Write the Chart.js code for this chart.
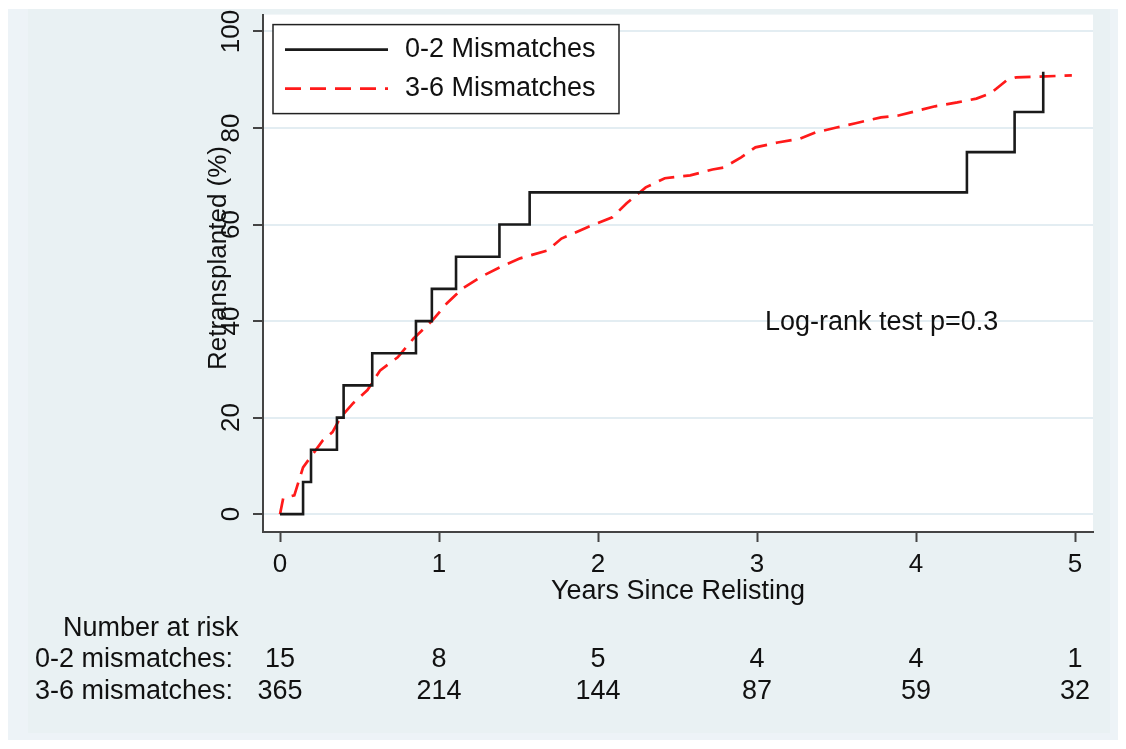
<!DOCTYPE html>
<html>
<head>
<meta charset="utf-8">
<script src="https://cdn.jsdelivr.net/npm/chart.js@4/dist/chart.umd.min.js"></script>
<style>
  body { margin: 0; background: #ffffff; }
  #wrap { width: 1126px; height: 749px; }
</style>
</head>
<body>
<div id="wrap"><canvas id="chart" width="1126" height="749"></canvas></div>
<script>
// data

// 0-2 mismatches: KM step curve (years, % retransplanted)
const lowYears = [0, 0.145, 0.195, 0.358, 0.40, 0.58, 0.855, 0.955, 1.107, 1.38, 1.57, 4.32, 4.62, 4.80];
const lowPct = [0, 6.67, 13.33, 20, 26.67, 33.33, 40, 46.67, 53.33, 60, 66.67, 75, 83.33, 91.67];

// 3-6 mismatches: dense curve, sampled
const highYears = [0, 0.02, 0.09, 0.145, 0.21, 0.27, 0.33, 0.38, 0.46, 0.55, 0.63, 0.74, 0.84, 0.96, 1.05, 1.15, 1.26, 1.38, 1.51, 1.68, 1.77, 1.93, 2.09, 2.18, 2.30, 2.42, 2.58, 2.72, 2.79, 2.90, 2.99, 3.13, 3.27, 3.37, 3.50, 3.62, 3.78, 3.89, 4.01, 4.12, 4.26, 4.38, 4.47, 4.57, 4.63, 4.98];
const highPct = [0, 3.3, 3.9, 9.7, 12.6, 15.3, 17, 20, 23, 25.7, 29.8, 32.5, 36.4, 40.2, 43.7, 46.8, 49.1, 51.1, 53, 54.6, 57.1, 59.4, 61.5, 64.4, 67.7, 69.6, 70.2, 71.4, 71.8, 73.9, 76, 77, 77.8, 79.1, 80.1, 81, 82.2, 82.6, 83.6, 84.5, 85.3, 86.1, 87.2, 89.9, 90.5, 90.9];

const seriesLabels = ['0-2 Mismatches', '3-6 Mismatches'];

// ticks
const xTicks = [0, 1, 2, 3, 4, 5];
const yTicks = [0, 20, 40, 60, 80, 100];

// number at risk table
const riskTitle = 'Number at risk';
const riskRowLabels = ['0-2 mismatches:', '3-6 mismatches:'];
const riskLow = [15, 8, 5, 4, 4, 1];
const riskHigh = [365, 214, 144, 87, 59, 32];

const noteText = 'Log-rank test p=0.3';

const FONT = "'Liberation Sans', Arial, sans-serif";

function toPoints(xs, ys) {
    return xs.map((x, i) => ({ x: x, y: ys[i] }));
}

// background panels + white plot region
const backdrop = {
    id: 'backdrop',
    beforeDraw(chart) {
        const { ctx, chartArea: a } = chart;
        ctx.save();
        ctx.fillStyle = '#ffffff';
        ctx.fillRect(0, 0, chart.width, chart.height);
        ctx.fillStyle = '#edf3f7';
        ctx.fillRect(8, 9, 1110, 731);
        ctx.fillStyle = '#e9f1f3';
        ctx.fillRect(28, 9, 1082, 724);
        ctx.fillStyle = '#ffffff';
        ctx.fillRect(a.left, a.top, a.right - a.left, a.bottom - a.top);
        ctx.restore();
    }
};

// legend box, note, y title and risk table
const extras = {
    id: 'extras',
    afterDraw(chart) {
        const { ctx, chartArea: a, scales } = chart;
        ctx.save();

        // legend
        const bx = a.left + 10, by = a.top + 10;
        ctx.fillStyle = '#ffffff';
        ctx.fillRect(bx, by, 346, 89);
        ctx.strokeStyle = '#222';
        ctx.lineWidth = 1.5;
        ctx.strokeRect(bx, by, 346, 89);
        ctx.font = '27px ' + FONT;
        ctx.textBaseline = 'middle';
        ctx.textAlign = 'left';
        chart.data.datasets.forEach((ds, i) => {
            const ly = by + 25 + i * 39;
            ctx.strokeStyle = ds.borderColor;
            ctx.lineWidth = ds.borderWidth;
            ctx.setLineDash(ds.borderDash || []);
            ctx.beginPath();
            ctx.moveTo(bx + 12, ly);
            ctx.lineTo(bx + 115, ly);
            ctx.stroke();
            ctx.setLineDash([]);
            ctx.fillStyle = '#111';
            ctx.fillText(ds.label, bx + 132, ly);
        });

        // log-rank note
        ctx.fillStyle = '#111';
        ctx.fillText(noteText, scales.x.getPixelForValue(3.05), scales.y.getPixelForValue(39.6));

        // y title
        ctx.save();
        ctx.translate(219, 258);
        ctx.rotate(-Math.PI / 2);
        ctx.textAlign = 'center';
        ctx.font = '26px ' + FONT;
        ctx.fillText('Retransplanted (%)', 0, 0);
        ctx.restore();

        // number at risk
        ctx.font = '27px ' + FONT;
        ctx.textAlign = 'left';
        ctx.fillText(riskTitle, 63, 629);
        ctx.textAlign = 'right';
        ctx.fillText(riskRowLabels[0], 233, 660);
        ctx.fillText(riskRowLabels[1], 233, 692);
        ctx.textAlign = 'center';
        xTicks.forEach((t, i) => {
            const px = scales.x.getPixelForValue(t);
            ctx.fillText(String(riskLow[i]), px, 660);
            ctx.fillText(String(riskHigh[i]), px, 692);
        });

        ctx.restore();
    }
};

const ctx = document.getElementById('chart').getContext('2d');

const myChart = new Chart(ctx, {
    type: 'line',
    data: {
        datasets: [{
            label: seriesLabels[0],
            data: toPoints(lowYears, lowPct),
            borderColor: '#1a1a1a',
            borderWidth: 2.6,
            stepped: 'before',
            pointRadius: 0,
            fill: false
        }, {
            label: seriesLabels[1],
            data: toPoints(highYears, highPct),
            borderColor: '#ff1a1a',
            borderWidth: 2.7,
            borderDash: [16, 9],
            tension: 0,
            pointRadius: 0,
            fill: false
        }]
    },
    options: {
        responsive: false,
        animation: false,
        layout: { padding: { left: 0, top: 14, right: 33, bottom: 0 } },
        plugins: {
            legend: { display: false },
            tooltip: { enabled: false }
        },
        scales: {
            x: {
                type: 'linear',
                min: -0.107,
                max: 5.113,
                afterBuildTicks: s => { s.ticks = xTicks.map(v => ({ value: v })); },
                afterFit: s => { s.height = 217; },
                grid: { drawOnChartArea: false, tickLength: 10, tickColor: '#444', tickWidth: 2 },
                border: { color: '#444', width: 2 },
                ticks: { font: { family: FONT, size: 26 }, color: '#111', padding: 7, maxRotation: 0 },
                title: {
                    display: true,
                    text: 'Years Since Relisting',
                    font: { family: FONT, size: 27 },
                    color: '#111',
                    padding: { top: 0, bottom: 141 }
                }
            },
            y: {
                type: 'linear',
                min: -3.7,
                max: 103.5,
                afterBuildTicks: s => { s.ticks = yTicks.map(v => ({ value: v })); },
                afterFit: s => { s.width = 263; },
                grid: { color: '#e3edf2', lineWidth: 2, tickLength: 10, tickColor: '#444', tickWidth: 2 },
                border: { color: '#444', width: 2 },
                ticks: { font: { family: FONT, size: 26 }, color: '#111', padding: -1, minRotation: 90, crossAlign: 'center' }
            }
        }
    },
    plugins: [backdrop, extras]
});
</script>
</body>
</html>
